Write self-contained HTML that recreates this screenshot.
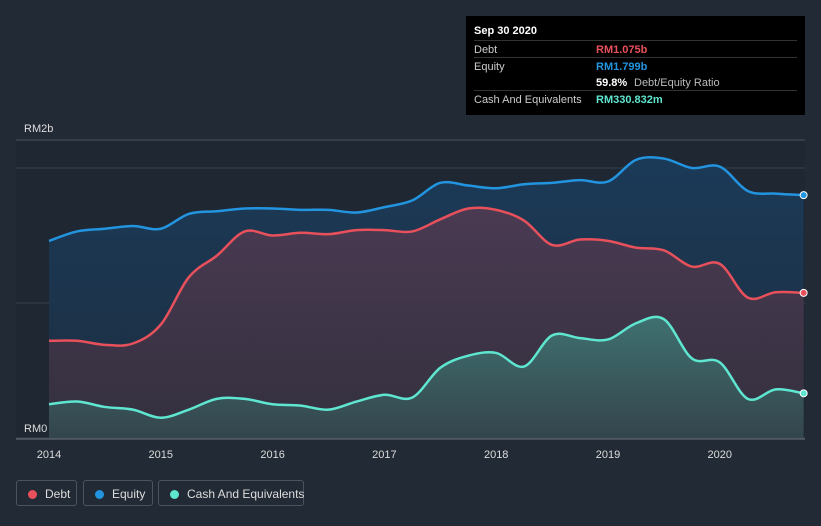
<!DOCTYPE html>
<html><head><meta charset="utf-8">
<style>
body{margin:0;background:#222a35;font-family:"Liberation Sans",sans-serif;}
#wrap{position:relative;width:821px;height:526px;overflow:hidden;background:#222a35;}
.tt{position:absolute;left:466px;top:16px;width:339px;height:99px;background:#000;color:#fff;font-size:11px;}
.tt .row{position:absolute;left:8px;right:8px;height:17px;border-top:1px solid #333;}
.tt .l{position:absolute;left:0;top:3px;color:#ccc;}
.tt .v{position:absolute;left:122px;top:3px;font-weight:bold;}
.leg{position:absolute;top:480px;height:26px;border:1px solid #4a5360;border-radius:3px;color:#ddd;font-size:12px;line-height:26px;box-sizing:border-box;white-space:nowrap;}
.dot{display:inline-block;width:9px;height:9px;border-radius:50%;margin:0 8px 0 11px;vertical-align:-1px;}
</style></head><body>
<div id="wrap">
<svg id="chart" width="821" height="526" style="position:absolute;left:0;top:0">
<defs>
<linearGradient id="gE" x1="0" y1="0" x2="0" y2="1"><stop offset="0" stop-color="#1b3a58"/><stop offset="1" stop-color="#1d2e40"/></linearGradient>
<linearGradient id="gD" x1="0" y1="0" x2="0" y2="1"><stop offset="0" stop-color="#4a3a52"/><stop offset="1" stop-color="#33303e"/></linearGradient>
<linearGradient id="gC" x1="0" y1="0" x2="0" y2="1"><stop offset="0" stop-color="#3f7070"/><stop offset="1" stop-color="#34454c"/></linearGradient>
</defs>
<rect x="16" y="140" width="789" height="299" fill="#1f2732"/>
<g id="grid"></g>
<g id="series"></g>
<g id="axes"></g>
</svg>
<div class="tt">
<div style="position:absolute;left:8px;top:9px;font-weight:bold;font-size:11px">Sep 30 2020</div>
<div class="row" style="top:24px"><span class="l">Debt</span><span class="v" style="color:#e8505b">RM1.075b</span></div>
<div class="row" style="top:41px;border-top:1px solid #333"><span class="l">Equity</span><span class="v" style="color:#2394df">RM1.799b</span></div>
<div class="row" style="top:58px;border-top:none"><span class="v" style="color:#fff">59.8%</span><span style="position:absolute;left:160px;top:3px;color:#bbb">Debt/Equity Ratio</span></div>
<div class="row" style="top:74px"><span class="l">Cash And Equivalents</span><span class="v" style="color:#5ee6d0">RM330.832m</span></div>
</div>
<div class="leg" style="left:16px;width:61px"><span class="dot" style="background:#e8505b"></span>Debt</div>
<div class="leg" style="left:83px;width:70px"><span class="dot" style="background:#2394df"></span>Equity</div>
<div class="leg" style="left:158px;width:146px"><span class="dot" style="background:#5ee6d0"></span>Cash And Equivalents</div>
</div>
<script>
const dates=[2014,2014.25,2014.5,2014.75,2015,2015.25,2015.5,2015.75,2016,2016.25,2016.5,2016.75,2017,2017.25,2017.5,2017.75,2018,2018.25,2018.5,2018.75,2019,2019.25,2019.5,2019.75,2020,2020.25,2020.5,2020.75];
const equity=[1.46,1.53,1.55,1.57,1.55,1.66,1.68,1.70,1.70,1.69,1.69,1.67,1.71,1.76,1.89,1.87,1.85,1.88,1.89,1.91,1.90,2.06,2.07,2.00,2.01,1.83,1.81,1.799];
const debt=[0.72,0.72,0.69,0.70,0.84,1.19,1.35,1.53,1.50,1.52,1.51,1.54,1.54,1.53,1.62,1.70,1.69,1.61,1.43,1.47,1.46,1.41,1.39,1.27,1.29,1.04,1.08,1.075];
const cash=[0.25,0.27,0.23,0.21,0.15,0.21,0.29,0.29,0.25,0.24,0.21,0.27,0.32,0.30,0.52,0.61,0.63,0.53,0.76,0.74,0.73,0.85,0.88,0.59,0.56,0.29,0.36,0.331];
const xTicks=[2014,2015,2016,2017,2018,2019,2020];
const yLabels=[{v:2,t:"RM2b"},{v:0,t:"RM0"}];
const NS="http://www.w3.org/2000/svg";
const X=d=>49+(d-2014)*111.8;
const Y=v=>438-v*135;
function mk(tag,attrs,parent){const e=document.createElementNS(NS,tag);for(const k in attrs)e.setAttribute(k,attrs[k]);parent.appendChild(e);return e;}
function curve(vals){const p=vals.map((v,i)=>[X(dates[i]),Y(v)]);let d="M"+p[0][0]+","+p[0][1];
for(let i=0;i<p.length-1;i++){const p0=p[Math.max(0,i-1)],p1=p[i],p2=p[i+1],p3=p[Math.min(p.length-1,i+2)];
const c1=[p1[0]+(p2[0]-p0[0])/6,p1[1]+(p2[1]-p0[1])/6],c2=[p2[0]-(p3[0]-p1[0])/6,p2[1]-(p3[1]-p1[1])/6];
d+=` C${c1[0]},${c1[1]} ${c2[0]},${c2[1]} ${p2[0]},${p2[1]}`;}return d;}
const grid=document.getElementById('grid'),ser=document.getElementById('series'),ax=document.getElementById('axes');
[0,1,2].forEach(v=>{const l=mk('line',{x1:16,x2:805,y1:Y(v),y2:Y(v),stroke:'#36404c','stroke-width':1},grid);
});
const topLine=mk('line',{x1:16,x2:805,y1:140,y2:140,stroke:'#4a5360'},grid);

const base=` L${X(dates[dates.length-1])},${Y(0)} L${X(dates[0])},${Y(0)} Z`;
const S=[[equity,'url(#gE)','#2394df','equity'],[debt,'url(#gD)','#e8505b','debt'],[cash,'url(#gC)','#5ee6d0','cash']];
S.forEach(([vals,fill,col,name])=>{const c=curve(vals);
const a=mk('path',{d:c+base,fill:fill},ser);});
S.forEach(([vals,fill,col,name])=>{const c=curve(vals);
const l=mk('path',{d:c,fill:'none',stroke:col,'stroke-width':2.5},ser);
const e=mk('circle',{cx:X(dates[dates.length-1]),cy:Y(vals[vals.length-1]),r:3.5,fill:col,stroke:'#fff','stroke-width':1},ser);
});
const bl=mk('line',{x1:16,x2:805,y1:439,y2:439,stroke:'#6a7480'},ax);
xTicks.forEach(t=>{const e=mk('text',{x:X(t),y:458,fill:'#ddd','font-size':11,'text-anchor':'middle'},ax);e.textContent=t;
});
yLabels.forEach(o=>{const e=mk('text',{x:24,y:Y(o.v)-36+(o.v===0?30:0),fill:'#ddd','font-size':11},ax);e.textContent=o.t;
});
</script>
</body></html>
